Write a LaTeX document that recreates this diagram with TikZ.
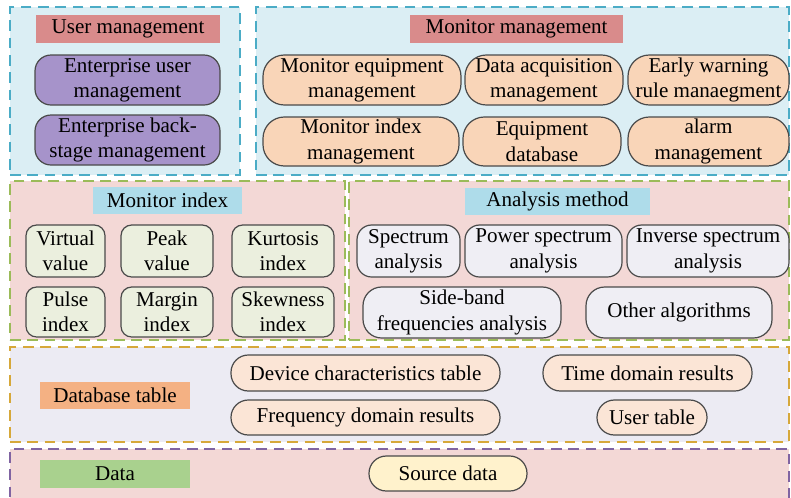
\documentclass[tikz,border=0pt]{standalone}
\usepackage{fontspec}
\setmainfont{Liberation Serif}
\definecolor{pblue}{HTML}{DBEEF4}
\definecolor{bcyan}{HTML}{4BACC6}
\definecolor{tred}{HTML}{D98B8B}
\definecolor{purp}{HTML}{A693CA}
\definecolor{peach}{HTML}{F9D5B8}
\definecolor{ppink}{HTML}{F3D8D6}
\definecolor{bgreen}{HTML}{9BBB59}
\definecolor{tblue}{HTML}{AEDCEA}
\definecolor{lgreen}{HTML}{EBEFDE}
\definecolor{lgray}{HTML}{EFEEF4}
\definecolor{plav}{HTML}{ECEBF3}
\definecolor{bgold}{HTML}{D6A83A}
\definecolor{torange}{HTML}{F4B183}
\definecolor{dbox}{HTML}{FBE5D6}
\definecolor{bpurp}{HTML}{8064A2}
\definecolor{tgreen}{HTML}{A9D18E}
\definecolor{ylw}{HTML}{FFF2CC}
\definecolor{edge}{HTML}{4A4A4A}
\newcommand\bx[7]{\node[#6, minimum width={(#4-#2)*0.75pt}, minimum height={(#5-#3)*0.75pt}] (#1) at ({(#2+#4)/2},{(#3+#5)/2}) {#7};}
\tikzset{
  base/.style={inner sep=0pt, outer sep=0pt, align=center, font=\fontsize{15.8}{19}\selectfont, text=black},
  panel/.style={base, dash pattern=on 8pt off 5pt, line width=1.2pt},
  title/.style={base},
  box/.style={base, draw=edge, line width=0.9pt, rounded corners=#1},
  box/.default=11pt
}
\begin{document}
\begin{tikzpicture}[x=0.75pt,y=-0.75pt]
\fill[white] (0,0) rectangle (791,497);
\useasboundingbox (0,0) rectangle (791,497);
% panels
\bx{pu}{10}{7}{240}{175}{panel, fill=pblue, draw=bcyan}{}
\bx{pm}{256}{7}{789}{175}{panel, fill=pblue, draw=bcyan}{}
\bx{pi}{10}{181}{345}{340}{panel, fill=ppink, draw=bgreen}{}
\bx{pa}{349}{181}{789}{340}{panel, fill=ppink, draw=bgreen}{}
\bx{pd}{10}{347}{789}{442}{panel, fill=plav, draw=bgold}{}
\bx{pdata}{10}{449}{789}{500}{panel, fill=ppink, draw=bpurp}{}
% user management
\bx{tu}{36}{15}{220}{43}{title, fill=tred}{User management}
\bx{eu}{35}{55}{220}{105}{box=12pt, fill=purp}{Enterprise user\\management}
\bx{eb}{35}{115}{220}{165}{box=12pt, fill=purp}{Enterprise back-\\stage management}
% monitor management
\bx{tm}{410}{15}{623}{43}{title, fill=tred}{Monitor management}
\bx{me}{263}{55}{461}{105}{box=16pt, fill=peach}{Monitor equipment\\management}
\bx{da}{465}{55}{623}{105}{box=16pt, fill=peach}{Data acquisition\\management}
\bx{ew}{628}{55}{789}{105}{box=16pt, fill=peach}{Early warning\\rule manaegment}
\bx{mi}{263}{117}{459}{166}{box=16pt, fill=peach}{Monitor index\\management}
\bx{ed}{463}{117}{621}{166}{box=16pt, fill=peach}{Equipment\\database}
\bx{al}{628}{117}{789}{166}{box=16pt, fill=peach}{alarm\\management}
% monitor index
\bx{ti}{93}{187}{242}{214}{title, fill=tblue}{Monitor index}
\bx{vv}{26}{225}{105}{277}{box=8pt, fill=lgreen}{Virtual\\value}
\bx{pv}{121}{225}{213}{277}{box=8pt, fill=lgreen}{Peak\\value}
\bx{ki}{232}{225}{334}{277}{box=8pt, fill=lgreen}{Kurtosis\\index}
\bx{pi2}{26}{287}{105}{337}{box=8pt, fill=lgreen}{Pulse\\index}
\bx{mg}{121}{287}{213}{337}{box=8pt, fill=lgreen}{Margin\\index}
\bx{sk}{232}{287}{334}{337}{box=8pt, fill=lgreen}{Skewness\\index}
% analysis method
\bx{ta}{465}{188}{650}{215}{title, fill=tblue}{Analysis method}
\bx{sa}{357}{225}{460}{277}{box=11pt, fill=lgray}{Spectrum\\analysis}
\bx{ps}{465}{225}{622}{277}{box=11pt, fill=lgray}{Power spectrum\\analysis}
\bx{is}{627}{225}{789}{277}{box=11pt, fill=lgray}{Inverse spectrum\\analysis}
\bx{sb}{363}{287}{561}{338}{box=14pt, fill=lgray}{Side-band\\frequencies analysis}
\bx{oa}{586}{287}{772}{338}{box=14pt, fill=lgray}{Other algorithms}
% database table
\bx{td}{40}{382}{190}{409}{title, fill=torange}{Database table}
\bx{dc}{231}{355}{500}{391}{box=13pt, fill=dbox}{Device characteristics table}
\bx{fd}{231}{400}{500}{435}{box=13pt, fill=dbox}{Frequency domain results}
\bx{tdr}{543}{355}{752}{391}{box=13pt, fill=dbox}{Time domain results}
\bx{ut}{597}{400}{707}{435}{box=13pt, fill=dbox}{User table}
% data
\bx{tdata}{40}{460}{190}{488}{title, fill=tgreen}{Data}
\bx{sd}{369}{456}{527}{491}{box=13pt, fill=ylw}{Source data}
\end{tikzpicture}
\end{document}
